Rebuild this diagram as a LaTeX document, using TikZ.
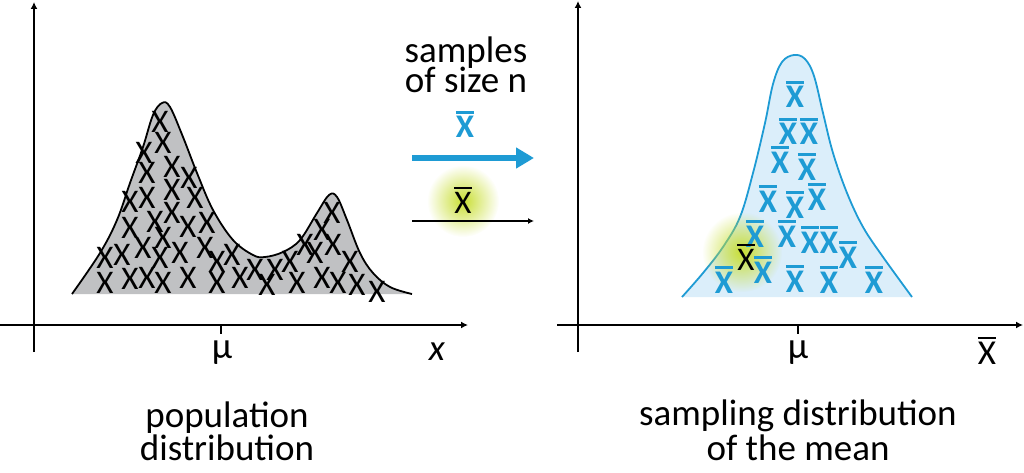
\documentclass[tikz,border=0pt]{standalone}
\usepackage{fontspec}
\setmainfont{Carlito}
\usetikzlibrary{arrows.meta,fadings}
\definecolor{sblue}{RGB}{30,155,212}
\definecolor{sfill}{RGB}{219,238,250}
\definecolor{pgray}{RGB}{192,193,195}
\definecolor{glowc}{RGB}{200,222,50}
\tikzfading[name=glowfade, inner color=transparent!0, outer color=transparent!100]
\newcommand\myxbar[2]{\vbox{\hrule height #1\kern #2\hbox{X}}}
\tikzset{
  axisline/.style={line width=1.6pt,-{Latex[length=7pt,width=7pt]}},
  lab/.style={font=\fontsize{37}{40}\selectfont,inner sep=0pt,anchor=base},
  popx/.style={font=\fontsize{33}{35}\selectfont,inner sep=0pt,anchor=center},
  bluexb/.style={font=\fontsize{33}{35}\selectfont\bfseries,text=sblue,inner sep=0pt,anchor=base},
  blackxb/.style={font=\fontsize{33}{35}\selectfont,text=black,inner sep=0pt,anchor=base},
  glow/.style={fill=glowc,path fading=glowfade}
}
\begin{document}
\begin{tikzpicture}[x=1pt,y=-1pt]
\useasboundingbox (0,0) rectangle (1024,473);
% ---------- left axes ----------
\coordinate (lo) at (34,352);
\coordinate (ltop) at (34,2);
\coordinate (lxs) at (0,325);
\coordinate (lxe) at (468,325);
\draw[axisline] (lo) -- (ltop);
\draw[axisline] (lxs) -- (lxe);
\coordinate (lt1) at (221,325);
\coordinate (lt2) at (221,334);
\draw[line width=1.4pt] (lt1) -- (lt2);
\node[lab] (lmu) at (222,358) {μ};
\node[lab] (lx) at (437,360) {\itshape x};
\node[lab] (pop1) at (227,427) {population};
\node[lab] (pop2) at (227,460) {distribution};
% ---------- population curve ----------
\def\popcurve{(72,294) (100,253) (117,220) (130,183) (143,147) (153,115) (162,103) (170,107) (183,137) (197,173) (213,210) (233,240) (253,255) (265,257) (283,252) (300,240) (317,213) (329,195) (337,197) (347,220) (360,253) (373,273) (390,287) (412,294)}
\fill[pgray] plot[smooth,tension=0.6] coordinates {\popcurve} -- cycle;
\foreach \px/\py [count=\i] in {160/122,163/143,144/153,172/167,147/173,189/178,172/190,130/202,147/198,195/198,172/213,155/222,130/228,188/227,207/223,163/238,143/248,105/258,122/255,160/258,180/253,205/248,217/262,232/255,105/283,130/279,147/278,163/283,188/278,217/283,240/278,255/270,267/285,275/270,290/262,297/283,305/245,315/253,322/230,332/213,333/245,350/262,322/278,338/283,357/285,377/292}
  \node[popx] (px\i) at (\px,\py) {X};
\draw[line width=1.8pt,line join=round] plot[smooth,tension=0.6] coordinates {\popcurve};
% ---------- middle ----------
\node[lab] (samp1) at (466,63) {samples};
\node[lab] (samp2) at (466,93) {of size n};
\node[bluexb] (mbx) at (465,138) {\myxbar{3pt}{3pt}};
\coordinate (ba1) at (412,158);
\coordinate (ba2) at (534,158);
\draw[sblue,line width=6pt,-{Triangle[length=18pt,width=20pt]}] (ba1) -- (ba2);
\fill[glow] (463,201) circle (36);
\node[blackxb] (mkx) at (463,213) {\myxbar{1.8pt}{3pt}};
\coordinate (ta1) at (412,221);
\coordinate (ta2) at (534,221);
\draw[line width=1.3pt,-{Latex[length=6pt,width=6pt]}] (ta1) -- (ta2);
% ---------- right axes ----------
\coordinate (ro) at (578,352);
\coordinate (rtop) at (578,1);
\coordinate (rxs) at (557,325);
\coordinate (rxe) at (1023,325);
\draw[axisline] (ro) -- (rtop);
\draw[axisline] (rxs) -- (rxe);
\coordinate (rt1) at (798,325);
\coordinate (rt2) at (798,334);
\draw[line width=1.4pt] (rt1) -- (rt2);
\node[lab] (rmu) at (798,358) {μ};
\node[lab,font=\fontsize{35}{38}\selectfont] (rxb) at (987,364) {\myxbar{1.8pt}{3pt}};
\node[lab] (samd1) at (798,425) {sampling distribution};
\node[lab] (samd2) at (798,460) {of the mean};
% ---------- sampling curve ----------
\def\sampcurve{(682,297) (703,273) (723,247) (740,217) (753,173) (765,123) (773,84) (782,62) (794,55) (805,59) (814,76) (823,113) (833,153) (847,193) (863,227) (883,257) (912,297)}
\fill[sfill] plot[smooth,tension=0.6] coordinates {\sampcurve} -- cycle;
\draw[sblue,line width=1.8pt] plot[smooth,tension=0.6] coordinates {\sampcurve};
\fill[glow] (742,252) circle (40);
\foreach \qx/\qy [count=\i] in {795/98,788/135,809/135,780/163,807/170,768/202,795/208,817/200,755/237,787/237,810/243,829/243,848/258,724/283,763/273,795/282,829/283,874/283}
  \node[bluexb] (sx\i) at (\qx,\qy+10) {\myxbar{3pt}{2.5pt}};
\node[blackxb] (skx) at (746,270) {\myxbar{1.8pt}{3pt}};
\end{tikzpicture}
\end{document}
